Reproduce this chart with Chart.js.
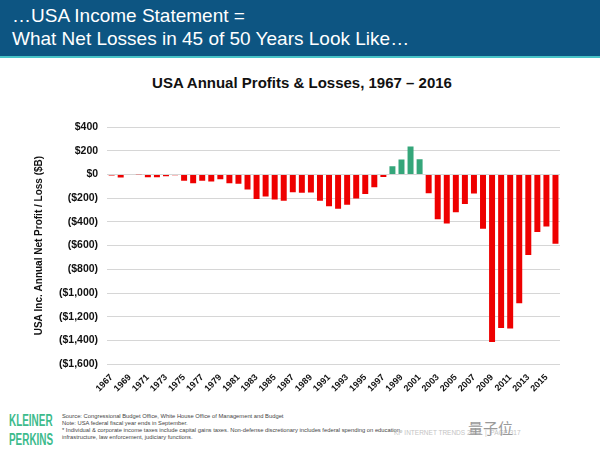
<!DOCTYPE html>
<html>
<head>
<meta charset="utf-8">
<script src="https://cdn.jsdelivr.net/npm/chart.js@4"></script>
<style>
  body { margin: 0; width: 600px; height: 450px; background: #fff; font-family: "Liberation Sans", Arial, sans-serif; overflow: hidden; }
  #header { position: absolute; left: 0; top: 0; width: 600px; height: 56px; background: #0d5582; border-bottom: 2px solid #48c4c8; }
  #header div { position: absolute; left: 12px; color: #fff; font-size: 19px; line-height: 22px; }
  #title { position: absolute; left: 0; top: 74px; width: 600px; text-align: center; color: #111; font-weight: bold; font-size: 15px; padding-left: 2px; }
  #wrap { position: absolute; left: 0; top: 60px; width: 600px; height: 340px; }
  #kp { position: absolute; left: 9px; top: 411px; color: #3dbb8c; font-weight: bold; font-size: 16px; line-height: 19px; transform: scaleX(0.62); transform-origin: left top; }
  #notes { position: absolute; left: 62px; top: 413px; color: #444; font-size: 5.8px; line-height: 7px; }
  #page { position: absolute; left: 394px; top: 429px; color: #c4c4c4; font-size: 6.5px; }
  #wm { position: absolute; left: 468px; top: 417px; color: #9a9a9a; font-size: 15px; font-family: "Noto Sans CJK SC", sans-serif; }
</style>
</head>
<body>
<div id="header">
  <div style="top:5px">…USA Income Statement =</div>
  <div style="top:28px">What Net Losses in 45 of 50 Years Look Like…</div>
</div>
<div id="title">USA Annual Profits &amp; Losses, 1967 – 2016</div>
<div id="wrap"><canvas id="chart"></canvas></div>
<div id="kp">KLEINER<br>PERKINS</div>
<div id="notes">
  Source: Congressional Budget Office, White House Office of Management and Budget<br>
  Note: USA federal fiscal year ends in September.<br>
  * Individual &amp; corporate income taxes include capital gains taxes. Non-defense discretionary includes federal spending on education,<br>
  infrastructure, law enforcement, judiciary functions.
</div>
<div id="page">KP INTERNET TRENDS 2017 &nbsp;|&nbsp; PAGE 317</div>
<div id="wm">量子位</div>
<script>
const years = [];
for (let y = 1967; y <= 2016; y++) years.push(String(y));

// net profit / loss, $B
const values = [
  -8.6, -25.2, 3.2, -2.8, -23.0, -23.4, -14.9, -6.1, -53.2, -73.7,
  -53.7, -59.2, -40.7, -73.8, -79.0, -128.0, -207.8, -185.4, -212.3, -221.2,
  -149.7, -155.2, -152.6, -221.0, -269.2, -290.3, -255.1, -203.2, -164.0, -107.4,
  -21.9, 69.3, 125.6, 236.2, 128.2, -157.8, -377.6, -412.7, -318.3, -248.2,
  -160.7, -458.6, -1412.7, -1294.4, -1299.6, -1087.0, -679.5, -484.6, -438.5, -584.7
];

const lossColor = "#ee0000";
const profitColor = "#35a67a";

function money(v) {
  const s = "$" + Math.abs(v).toLocaleString("en-US");
  return v < 0 ? "(" + s + ")" : s;
}

new Chart(document.getElementById("chart"), {
  type: "bar",
  data: {
    labels: years,
    datasets: [{
      data: values,
      backgroundColor: values.map(v => v < 0 ? lossColor : profitColor),
      barPercentage: 0.66,
      categoryPercentage: 1.0
    }]
  },
  options: {
    responsive: true,
    maintainAspectRatio: false,
    animation: false,
    layout: { padding: { left: 30, right: 40, top: 67, bottom: 6 } },
    plugins: {
      legend: { display: false },
      tooltip: { enabled: false }
    },
    scales: {
      x: {
        grid: { display: false },
        border: { display: false },
        ticks: {
          autoSkip: false,
          maxRotation: 45,
          minRotation: 45,
          color: "#111",
          padding: 0,
          font: { family: "Liberation Sans", size: 9, weight: "bold" },
          callback: (v, i) => i % 2 === 0 ? years[i] : ""
        }
      },
      y: {
        min: -1600,
        max: 400,
        ticks: {
          stepSize: 200,
          color: "#111",
          padding: 9,
          font: { family: "Liberation Sans", size: 10.5, weight: "bold" },
          callback: v => money(v)
        },
        grid: { color: "#d6d6d6", lineWidth: 1, drawTicks: false },
        border: { display: false },
        title: {
          display: true,
          text: "USA Inc. Annual Net Profit / Loss ($B)",
          color: "#111",
          font: { family: "Liberation Sans", size: 10, weight: "bold" },
          padding: { top: 3, bottom: 5 }
        }
      }
    }
  }
});
</script>
</body>
</html>
